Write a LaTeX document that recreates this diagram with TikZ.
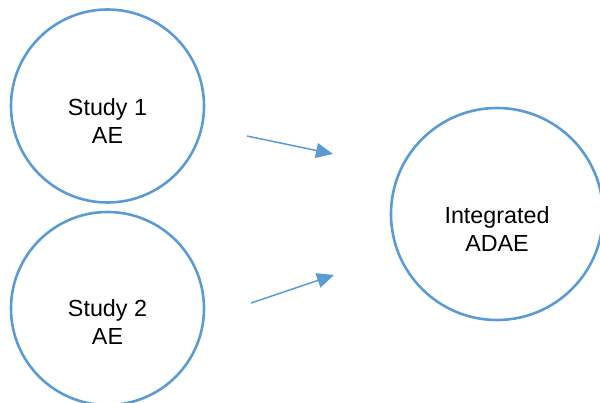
\documentclass[tikz,border=0pt]{standalone}
\usepackage{fontspec}
\setmainfont{Liberation Sans}
\usetikzlibrary{arrows.meta}
\definecolor{ringblue}{HTML}{5B9BD5}
\begin{document}
\begin{tikzpicture}[x=1pt,y=-1pt,
  ring/.style={circle,draw=ringblue,line width=2.6pt,inner sep=0pt},
  caption/.style={align=center,font=\fontsize{23.3}{28}\selectfont,text=black},
  flow/.style={draw=ringblue,line width=1.5pt,-{Triangle[length=17pt,width=15pt]}}]
  \useasboundingbox (0,0) rectangle (600,402);
  % source and target circles
  \node[ring,minimum size=193pt] (s1) at (107.5,106) {};
  \node[ring,minimum size=193pt] (s2) at (107.5,308.5) {};
  \node[ring,minimum size=212pt] (ia) at (497,214) {};
  % captions, set a little below each circle's centre
  \node[caption] (t1) at (107.5,121) {Study 1\\AE};
  \node[caption] (t2) at (107.5,322) {Study 2\\AE};
  \node[caption] (t3) at (497,229) {Integrated\\ADAE};
  % free-standing arrows between the columns
  \coordinate (a1s) at (247,136);
  \coordinate (a1e) at (333,154);
  \coordinate (a2s) at (251,303);
  \coordinate (a2e) at (334,275);
  \draw[flow] (a1s) -- (a1e);
  \draw[flow] (a2s) -- (a2e);
\end{tikzpicture}
\end{document}
